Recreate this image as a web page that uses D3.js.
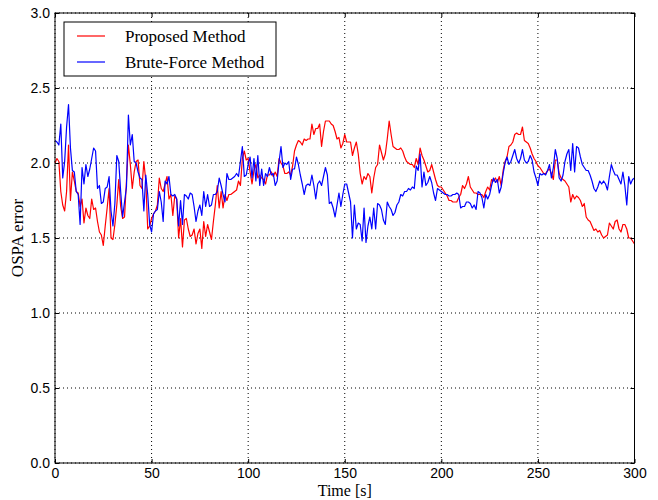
<!DOCTYPE html>
<html>
<head>
<meta charset="utf-8">
<script src="https://cdn.jsdelivr.net/npm/d3@7/dist/d3.min.js"></script>
<style>
    body { margin: 0; background: #fff; }
    svg { font-family: "Liberation Serif", "DejaVu Serif", serif; }
    .grid-line { stroke: #000; stroke-width: 1; stroke-dasharray: 1,3; }
    .axis text { font-size: 14px; fill: #000; }
    .axis line { stroke: #000; }
    .frame { fill: none; stroke: #000; stroke-width: 1; }
    .series { fill: none; stroke-width: 1.2; stroke-linejoin: round; }
</style>
</head>
<body>
<svg id="chart" width="658" height="500"></svg>
<script>
// Time step of the samples [s]
const timeStep = 1;

const xTicks = [0, 50, 100, 150, 200, 250, 300];
const yTicks = [0.0, 0.5, 1.0, 1.5, 2.0, 2.5, 3.0];

const seriesNames = ['Proposed Method', 'Brute-Force Method'];
const seriesColors = ['#ff0000', '#0000ff'];

// OSPA error of the proposed method, one value per second (0..300 s)
const proposedError = [
    2.00,2.03,2.01,1.81,1.72,1.68,1.81,2.12,1.75,1.94,1.88,1.81,1.80,1.71,1.76,1.60,1.70,1.65,1.63,1.76,
    1.69,1.70,1.61,1.54,1.52,1.45,1.58,1.70,1.83,1.50,1.49,1.59,1.72,1.89,1.71,1.63,1.64,1.88,2.12,1.99,
    1.83,1.94,2.01,2.02,1.85,1.83,2.01,1.88,1.56,1.58,1.63,
    1.66,1.68,1.72,1.90,1.83,1.81,1.86,1.91,1.76,1.79,1.65,1.78,1.76,1.50,1.63,1.44,1.62,1.63,1.56,1.51,
    1.52,1.56,1.46,1.53,1.56,1.43,1.61,1.51,1.59,1.54,1.49,1.61,1.72,1.85,1.70,1.81,1.70,1.79,1.75,1.79,
    1.79,1.80,1.81,1.82,1.88,1.85,2.03,2.08,2.02,2.03,
    1.94,1.86,1.95,1.99,1.90,1.92,1.90,1.89,1.86,1.92,1.92,1.94,1.91,1.94,1.91,2.03,2.00,1.98,1.93,1.93,
    1.94,1.92,1.98,2.08,2.12,2.15,2.14,2.12,2.16,2.15,2.16,2.16,2.26,2.19,2.23,2.23,2.26,2.11,2.21,2.28,
    2.28,2.28,2.26,2.25,2.21,2.16,2.17,2.10,2.13,2.19,
    2.14,2.14,2.14,2.05,2.10,2.14,2.06,1.93,1.86,1.91,1.89,1.93,1.91,1.80,1.90,1.97,1.99,2.12,2.07,2.02,
    2.06,2.16,2.28,2.19,2.11,2.10,2.09,2.09,2.10,2.08,2.04,2.01,2.00,1.99,1.99,1.97,2.03,1.99,2.10,2.05,
    2.02,1.98,1.94,1.95,1.99,1.94,1.89,1.85,1.84,1.84,
    1.82,1.80,1.78,1.75,1.75,1.74,1.74,1.74,1.77,1.79,1.85,1.83,1.86,1.91,1.84,1.82,1.80,1.80,1.79,1.79,
    1.79,1.77,1.81,1.84,1.82,1.89,1.88,1.90,1.87,1.91,1.85,1.95,2.01,2.04,2.11,2.12,2.14,2.19,2.20,2.19,
    2.19,2.24,2.15,2.14,2.13,2.10,2.06,2.03,2.01,1.98,
    1.97,1.95,1.93,1.93,1.95,1.96,1.93,1.89,2.02,2.02,1.93,1.90,1.89,1.88,1.86,1.84,1.74,1.79,1.76,1.78,
    1.77,1.75,1.71,1.73,1.64,1.62,1.61,1.58,1.55,1.56,1.54,1.55,1.52,1.50,1.51,1.52,1.60,1.58,1.56,1.61,
    1.62,1.56,1.54,1.59,1.59,1.56,1.50,1.50,1.48,1.46
];

// OSPA error of the brute-force method, one value per second (0..300 s)
const bruteForceError = [
    2.15,2.14,2.12,2.26,1.90,2.01,2.24,2.39,2.10,1.95,1.94,1.81,1.79,1.59,1.97,1.86,1.99,1.91,1.96,2.03,
    2.10,2.08,1.83,1.85,1.73,1.74,1.83,1.84,1.91,1.68,1.58,1.73,2.05,2.01,1.81,1.64,1.74,1.84,2.32,2.12,
    2.19,2.01,2.00,1.94,1.90,1.89,1.68,1.92,1.79,1.59,1.54,
    1.66,1.68,1.69,1.81,1.74,1.61,1.88,1.86,1.91,1.79,1.78,1.79,1.76,1.58,1.75,1.59,1.79,1.78,1.76,1.80,
    1.79,1.71,1.61,1.68,1.72,1.65,1.81,1.71,1.79,1.71,1.72,1.79,1.79,1.81,1.90,1.85,1.79,1.74,1.93,1.89,
    1.89,1.90,1.91,1.93,1.91,2.01,2.11,1.91,1.92,1.99,
    2.04,1.90,2.03,1.88,2.05,1.85,1.96,1.85,1.93,1.91,1.97,1.92,1.93,1.85,1.88,2.01,2.11,1.97,2.00,1.99,
    2.01,1.89,1.96,1.96,2.04,1.99,1.92,1.86,1.79,1.85,1.86,1.85,1.92,1.85,1.76,1.86,1.88,1.85,1.91,1.97,
    1.92,1.73,1.74,1.70,1.64,1.72,1.80,1.71,1.79,1.86,
    1.86,1.80,1.74,1.50,1.72,1.56,1.60,1.59,1.48,1.70,1.47,1.58,1.64,1.56,1.70,1.56,1.73,1.72,1.69,1.62,
    1.59,1.74,1.71,1.69,1.65,1.67,1.72,1.74,1.79,1.78,1.81,1.81,1.83,1.82,1.84,1.83,1.98,1.95,2.06,1.84,
    1.94,1.85,1.87,1.91,1.87,1.80,1.75,1.83,1.82,1.81,
    1.80,1.79,1.79,1.78,1.78,1.79,1.79,1.80,1.79,1.70,1.71,1.71,1.74,1.74,1.73,1.70,1.72,1.69,1.81,1.80,
    1.77,1.70,1.79,1.76,1.79,1.85,1.90,1.87,1.89,1.80,1.84,1.93,2.00,2.04,1.99,2.01,2.05,2.09,2.03,2.00,
    2.03,2.09,2.02,2.00,2.01,2.05,2.02,1.94,1.90,1.85,
    1.93,1.92,1.93,1.92,1.95,1.99,1.90,1.97,2.09,2.03,1.90,1.88,1.92,2.01,2.06,2.09,1.95,2.13,1.94,2.11,
    2.10,2.04,1.99,1.97,1.95,1.95,1.92,1.88,1.83,1.81,1.84,1.88,1.86,1.88,1.86,1.82,1.91,1.99,1.95,1.92,
    1.92,1.89,1.86,1.94,1.85,1.72,1.91,1.86,1.89,1.90
];

class OspaChart {

    constructor(_config, _series) {
        this.config = {
            parentElement: _config.parentElement,
            margin: { top: 13, right: 23.5, bottom: 37, left: 55 }
        };
        this.series = _series;
        this.initVis();
    }

    initVis() {
        let vis = this;
        vis.svg = d3.select(vis.config.parentElement);

        vis.config.width = +vis.svg.attr('width') - vis.config.margin.left - vis.config.margin.right;
        vis.config.height = +vis.svg.attr('height') - vis.config.margin.top - vis.config.margin.bottom;

        vis.chart = vis.svg.append('g')
            .attr('transform', `translate(${vis.config.margin.left},${vis.config.margin.top})`);

        vis.xScale = d3.scaleLinear()
            .domain([0, 300])
            .range([0, vis.config.width]);

        vis.yScale = d3.scaleLinear()
            .domain([0, 3])
            .range([vis.config.height, 0]);

        vis.renderVis();
    }

    renderVis() {
        let vis = this;
        const w = vis.config.width, h = vis.config.height;

        // dotted grid
        const grid = vis.chart.append('g').attr('class', 'grid');
        grid.selectAll('.grid-x')
                .data(xTicks)
            .join('line')
                .attr('class', 'grid-line grid-x')
                .attr('x1', d => vis.xScale(d)).attr('x2', d => vis.xScale(d))
                .attr('y1', 0).attr('y2', h);
        grid.selectAll('.grid-y')
                .data(yTicks)
            .join('line')
                .attr('class', 'grid-line grid-y')
                .attr('x1', 0).attr('x2', w)
                .attr('y1', d => vis.yScale(d)).attr('y2', d => vis.yScale(d));

        // the two series
        const line = d3.line()
            .x((d, i) => vis.xScale(i * timeStep))
            .y(d => vis.yScale(d));

        vis.chart.selectAll('.series')
                .data(vis.series)
            .join('path')
                .attr('class', 'series')
                .attr('stroke', d => d.color)
                .attr('d', d => line(d.values));

        // axes, ticks pointing inwards on all four sides
        vis.chart.append('g')
            .attr('class', 'axis x-axis')
            .attr('transform', `translate(0,${h})`)
            .call(d3.axisBottom(vis.xScale).tickValues(xTicks).tickSizeInner(-4).tickSizeOuter(0).tickPadding(5));
        vis.chart.append('g')
            .attr('class', 'axis')
            .call(d3.axisTop(vis.xScale).tickValues(xTicks).tickSizeInner(-4).tickSizeOuter(0).tickFormat(''));
        vis.chart.append('g')
            .attr('class', 'axis y-axis')
            .call(d3.axisLeft(vis.yScale).tickValues(yTicks).tickSizeInner(-4).tickSizeOuter(0).tickPadding(5)
                .tickFormat(d3.format('.1f')));
        vis.chart.append('g')
            .attr('class', 'axis')
            .attr('transform', `translate(${w},0)`)
            .call(d3.axisRight(vis.yScale).tickValues(yTicks).tickSizeInner(-4).tickSizeOuter(0).tickFormat(''));
        vis.chart.selectAll('.axis .domain').remove();
        vis.chart.selectAll('.axis text').attr('font-family', null);

        vis.chart.append('rect')
            .attr('class', 'frame')
            .attr('width', w).attr('height', h);

        // axis titles
        vis.svg.append('text')
            .attr('x', vis.config.margin.left + w / 2)
            .attr('y', 496)
            .attr('text-anchor', 'middle')
            .attr('font-size', 16)
            .text('Time [s]');
        vis.svg.append('text')
            .attr('transform', `translate(23,${vis.config.margin.top + h / 2}) rotate(-90)`)
            .attr('text-anchor', 'middle')
            .attr('font-size', 17)
            .text('OSPA error');

        vis._renderLegend();
    }

    _renderLegend() {
        let vis = this;
        const legend = vis.chart.append('g')
            .attr('transform', 'translate(9,9)');

        legend.append('rect')
            .attr('width', 212).attr('height', 54)
            .attr('fill', '#fff').attr('stroke', '#000');

        const items = legend.selectAll('.legend-item')
                .data(vis.series)
            .join('g')
                .attr('class', 'legend-item')
                .attr('transform', (d, i) => `translate(0,${14 + i * 26})`);

        items.append('line')
            .attr('x1', 13).attr('x2', 41)
            .attr('stroke', d => d.color)
            .attr('stroke-width', 1.2);

        items.append('text')
            .attr('x', 61)
            .attr('dy', '0.35em')
            .attr('font-size', 17)
            .text(d => d.name);
    }
}

const series = [
    { name: seriesNames[0], color: seriesColors[0], values: proposedError },
    { name: seriesNames[1], color: seriesColors[1], values: bruteForceError }
];

new OspaChart({ parentElement: '#chart' }, series);
</script>
</body>
</html>
